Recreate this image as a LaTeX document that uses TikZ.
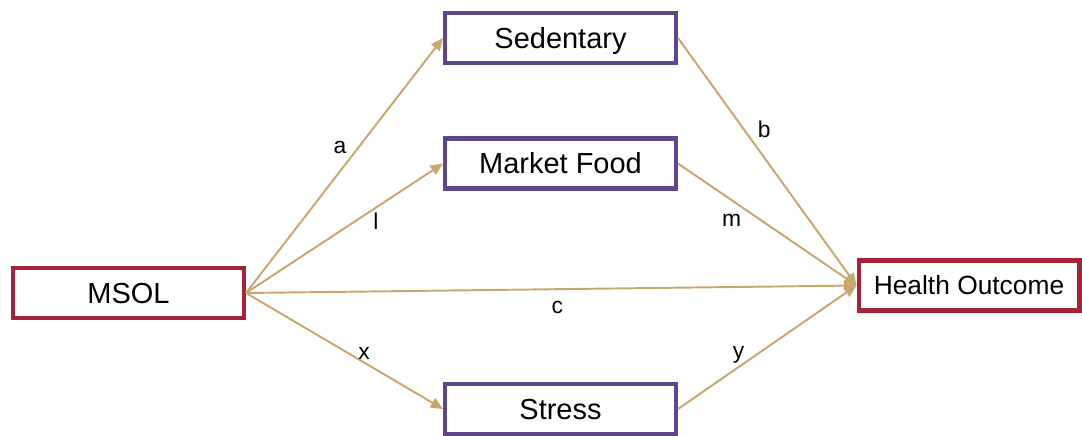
\documentclass[tikz,border=0pt]{standalone}
\usepackage{fontspec}
\setmainfont{Liberation Sans}
\usetikzlibrary{arrows.meta,
  positioning
}
\definecolor{boxred}{rgb}{0.64, 0.14, 0.22}
\definecolor{boxpurple}{rgb}{0.37, 0.27, 0.55}
\definecolor{pathtan}{rgb}{0.79, 0.65, 0.42}

\begin{document}
\begin{tikzpicture}[x=0.02cm, y=-0.02cm,
  outcomebox/.style={draw=boxred, line width=2.3pt, fill=white,
    minimum width=4.62cm, minimum height=1.0cm, inner sep=0pt,
    text height=11.8pt, text depth=0pt,
    font=\fontsize{16.5}{18}\selectfont},
  mediatorbox/.style={draw=boxpurple, line width=2.3pt, fill=white,
    minimum width=4.62cm, minimum height=1.0cm, inner sep=0pt,
    text height=11.8pt, text depth=0pt,
    font=\fontsize{16.5}{18}\selectfont},
  path/.style={draw=pathtan, line width=1.1pt,
    -{Triangle[length=7pt, width=6pt]}},
  coef/.style={font=\fontsize{13}{15}\selectfont, text=black}]
  \useasboundingbox (0, 0) rectangle (1082, 436);

  \node[outcomebox] (msol) at (128.5, 293) {MSOL};
  \node[mediatorbox] (sedentary) at (560.5, 38) {Sedentary};
  \node[mediatorbox] (market) at (560.5, 163.5) {Market Food};
  \node[mediatorbox] (stress) at (560.5, 409) {Stress};
  \node[outcomebox, minimum width=4.42cm, text height=10.7pt,
    font=\fontsize{15}{17}\selectfont] (health) at (969, 285.5) {Health Outcome};

  \draw[path] (msol.east) -- node[coef, pos=0.57, left=3pt] {a} (sedentary.west);
  \draw[path] (msol.east) -- node[coef, pos=0.66, below=-1pt] {l} (market.west);
  \draw[path] (msol.east) -- node[coef, pos=0.51, below=3pt] {c} (health.west);
  \draw[path] (msol.east) -- node[coef, pos=0.6, above=-2pt] {x} (stress.west);

  \draw[path] (sedentary.east) -- node[coef, pos=0.37, right=4pt] {b} (health.west);
  \draw[path] (market.east) -- node[coef, pos=0.3, below=4pt] {m} (health.west);
  \draw[path] (stress.east) -- node[coef, pos=0.34, above=-2pt] {y} (health.west);
\end{tikzpicture}
\end{document}
